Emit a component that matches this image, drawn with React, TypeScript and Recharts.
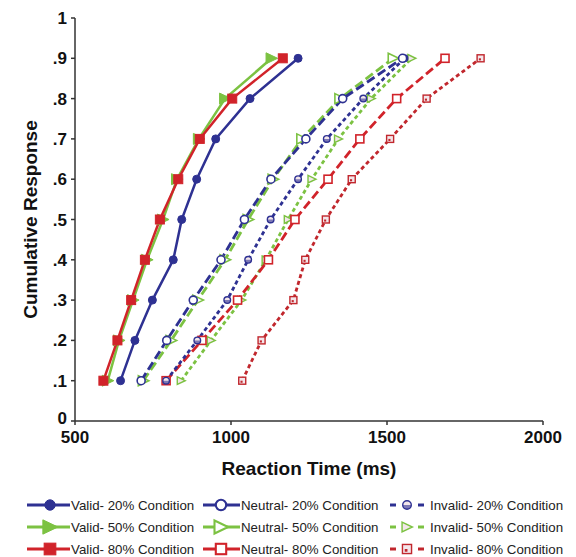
import React from 'react';
import { LineChart, Line, XAxis, YAxis, Label } from 'recharts';

// cumulative proportions (y) and reaction times (ms)
const probs = [0.1, 0.2, 0.3, 0.4, 0.5, 0.6, 0.7, 0.8, 0.9];

const valid20 = [646, 692, 748, 815, 842, 890, 951, 1061, 1215];
const valid50 = [605, 641, 686, 731, 782, 827, 897, 981, 1130];
const valid80 = [591, 636, 680, 724, 772, 831, 900, 1004, 1166];
const neutral20 = [712, 794, 879, 968, 1043, 1128, 1240, 1358, 1550];
const neutral50 = [719, 808, 894, 981, 1055, 1135, 1227, 1349, 1520];
const neutral80 = [792, 907, 1021, 1120, 1205, 1311, 1413, 1531, 1686];
const invalid20 = [792, 892, 988, 1055, 1127, 1215, 1307, 1424, 1556];
const invalid50 = [840, 936, 1034, 1112, 1183, 1259, 1344, 1449, 1579];
const invalid80 = [1036, 1098, 1200, 1238, 1304, 1387, 1510, 1627, 1800];

const xTicks = [500, 1000, 1500, 2000];
const yTicks = [0, 0.1, 0.2, 0.3, 0.4, 0.5, 0.6, 0.7, 0.8, 0.9, 1];

const BLUE = '#2e3192';
const GREEN = '#7cc242';
const RED = '#d1232a';
const DARKRED = '#c1272d';
const FONT = '"Liberation Sans", Arial, sans-serif';

const toPoints = (rts: number[]) => rts.map((rt, i) => ({ rt, p: probs[i] }));

type Shape = 'circle' | 'triangle' | 'square';
type Kind = 'valid' | 'neutral' | 'invalid';

const series = [
  { name: 'Invalid- 80% Condition', rts: invalid80, color: DARKRED, kind: 'invalid' as Kind, shape: 'square' as Shape },
  { name: 'Invalid- 50% Condition', rts: invalid50, color: GREEN, kind: 'invalid' as Kind, shape: 'triangle' as Shape },
  { name: 'Neutral- 80% Condition', rts: neutral80, color: RED, kind: 'neutral' as Kind, shape: 'square' as Shape },
  { name: 'Invalid- 20% Condition', rts: invalid20, color: BLUE, kind: 'invalid' as Kind, shape: 'circle' as Shape },
  { name: 'Neutral- 50% Condition', rts: neutral50, color: GREEN, kind: 'neutral' as Kind, shape: 'triangle' as Shape },
  { name: 'Neutral- 20% Condition', rts: neutral20, color: BLUE, kind: 'neutral' as Kind, shape: 'circle' as Shape },
  { name: 'Valid- 20% Condition', rts: valid20, color: BLUE, kind: 'valid' as Kind, shape: 'circle' as Shape },
  { name: 'Valid- 50% Condition', rts: valid50, color: GREEN, kind: 'valid' as Kind, shape: 'triangle' as Shape },
  { name: 'Valid- 80% Condition', rts: valid80, color: RED, kind: 'valid' as Kind, shape: 'square' as Shape },
];

const legendOrder = [
  ['Valid- 20% Condition', 'Neutral- 20% Condition', 'Invalid- 20% Condition'],
  ['Valid- 50% Condition', 'Neutral- 50% Condition', 'Invalid- 50% Condition'],
  ['Valid- 80% Condition', 'Neutral- 80% Condition', 'Invalid- 80% Condition'],
];

const dashFor = (kind: Kind) => (kind === 'valid' ? undefined : kind === 'neutral' ? '9 4' : '4 3');

function Marker({ cx, cy, color, kind, shape, big }: any) {
  if (cx == null || cy == null) return null;
  const s = big ? 1.3 : 1;
  const filled = kind === 'valid';
  const fill = filled ? color : kind === 'invalid' ? '#f3e6ea' : '#fff';
  const sw = kind === 'valid' ? 1 : kind === 'neutral' ? 1.6 * s : 1.4;
  if (shape === 'circle') {
    const r = (kind === 'invalid' ? 3.3 : 4) * s;
    return (
      <g>
        <circle cx={cx} cy={cy} r={r} fill={fill} stroke={color} strokeWidth={sw} />
        {kind === 'invalid' && <path d={`M${cx - r} ${cy} A${r} ${r} 0 0 0 ${cx + r} ${cy} Z`} fill={color} opacity={0.6} />}
      </g>
    );
  }
  if (shape === 'triangle') {
    const a = (kind === 'valid' ? 5.5 : kind === 'neutral' ? 5 : 3.8) * s;
    return (
      <polygon
        points={`${cx - a},${cy - a} ${cx + a * 1.1},${cy} ${cx - a},${cy + a}`}
        fill={fill}
        stroke={color}
        strokeWidth={sw}
        strokeLinejoin="miter"
      />
    );
  }
  const h = (kind === 'valid' ? 4.5 : kind === 'neutral' ? 4 : 3.5) * s;
  return (
    <g>
      <rect x={cx - h} y={cy - h} width={h * 2} height={h * 2} fill={fill} stroke={color} strokeWidth={sw} />
      {kind === 'invalid' && <rect x={cx - h * 0.5} y={cy} width={h * 0.6} height={h * 0.6} fill={color} />}
    </g>
  );
}

const yFmt = (v: number) => (v === 0 ? '0' : v === 1 ? '1' : '.' + Math.round(v * 10));

// y tick: the "0" sits a little higher so it clears the "500" below it
function YTick({ x, y, payload }: any) {
  const v = payload.value;
  return (
    <text
      x={x}
      y={v === 0 ? y - 3 : y}
      dy="0.355em"
      textAnchor="end"
      fill="#111"
      fontSize={17}
      fontWeight={700}
      fontFamily={FONT}
    >
      {yFmt(v)}
    </text>
  );
}

function LegendItem({ name }: { name: string }) {
  const s = series.find((d) => d.name === name)!;
  const sample =
    s.kind === 'valid' ? { x1: 0, x2: 43, m: 23, w: 44 } : s.kind === 'neutral' ? { x1: 0, x2: 37, m: 18, w: 38 } : { x1: 0, x2: 38, m: 17, w: 40 };
  return (
    <div style={{ display: 'flex', alignItems: 'center', height: 22 }}>
      <svg width={sample.w} height={20} style={{ overflow: 'visible' }}>
        {s.kind === 'invalid' ? (
          <>
            <line x1={0} x2={6} y1={10} y2={10} stroke={s.color} strokeWidth={3} />
            <line x1={28} x2={34} y1={10} y2={10} stroke={s.color} strokeWidth={3} />
          </>
        ) : (
          <line x1={sample.x1} x2={sample.x2} y1={10} y2={10} stroke={s.color} strokeWidth={3} />
        )}
        <Marker cx={sample.m} cy={10} color={s.color} kind={s.kind} shape={s.shape} big />
      </svg>
      <span style={{ fontFamily: FONT, fontSize: 13.3, color: '#222', whiteSpace: 'nowrap' }}>{name}</span>
    </div>
  );
}

export default function App() {
  return (
    <div style={{ position: 'absolute', left: 0, top: 0, width: 576, height: 557, background: '#fff' }}>
      <LineChart width={576} height={490} margin={{ top: 18, right: 33, bottom: 13, left: 0 }}>
        <XAxis
          type="number"
          dataKey="rt"
          domain={[500, 2000]}
          ticks={xTicks}
          allowDataOverflow
          height={56}
          stroke="#333"
          strokeWidth={1.5}
          tickSize={4}
          tickMargin={6}
          tick={{ fill: '#111', fontSize: 17, fontWeight: 700, fontFamily: FONT }}
        >
          <Label
            value="Reaction Time (ms)"
            position="insideBottom"
            offset={2}
            style={{ fill: '#111', fontSize: 19, fontWeight: 700, fontFamily: FONT }}
          />
        </XAxis>
        <YAxis
          type="number"
          dataKey="p"
          domain={[0, 1]}
          ticks={yTicks}
          width={75}
          stroke="#333"
          strokeWidth={1.5}
          tickSize={4}
          tickMargin={4}
          tick={<YTick />}
        >
          <Label
            value="Cumulative Response"
            angle={-90}
            position="insideLeft"
            offset={30}
            style={{ fill: '#111', fontSize: 19, fontWeight: 700, fontFamily: FONT, textAnchor: 'middle' }}
          />
        </YAxis>
        {series.map((s) => (
          <Line
            key={s.name}
            data={toPoints(s.rts)}
            dataKey="p"
            name={s.name}
            type="linear"
            stroke={s.color}
            strokeWidth={s.kind === 'valid' ? 2.5 : 2.8}
            strokeDasharray={dashFor(s.kind)}
            isAnimationActive={false}
            activeDot={false}
            dot={(props: any) => (
              <Marker key={props.index} cx={props.cx} cy={props.cy} color={s.color} kind={s.kind} shape={s.shape} />
            )}
          />
        ))}
      </LineChart>
      <div style={{ position: 'absolute', top: 494, left: 0 }}>
        {legendOrder.map((row, ri) => (
          <div key={ri} style={{ position: 'relative', height: 22 }}>
            <div style={{ position: 'absolute', left: 27 }}>
              <LegendItem name={row[0]} />
            </div>
            <div style={{ position: 'absolute', left: 203 }}>
              <LegendItem name={row[1]} />
            </div>
            <div style={{ position: 'absolute', left: 390 }}>
              <LegendItem name={row[2]} />
            </div>
          </div>
        ))}
      </div>
    </div>
  );
}
